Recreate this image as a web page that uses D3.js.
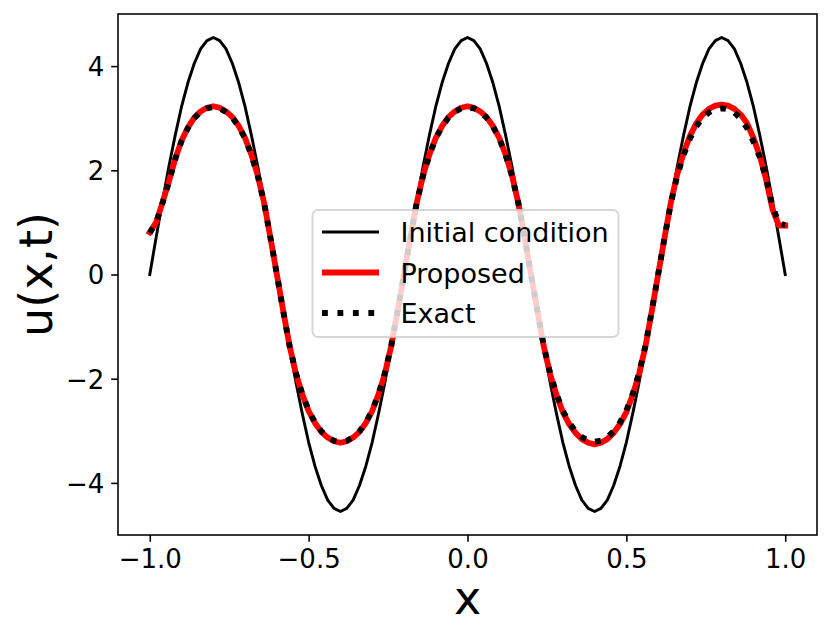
<!DOCTYPE html>
<html>
<head>
<meta charset="utf-8">
<script src="https://cdn.jsdelivr.net/npm/d3@7"></script>
<style>
  html, body { margin: 0; padding: 0; background: #fff; }
  svg { display: block; font-family: "DejaVu Sans", sans-serif; }
</style>
</head>
<body>
<div id="chart"></div>
<script>
// sample positions along x
const xValues = [
  -1.00, -0.98, -0.96, -0.94, -0.92, -0.90, -0.88, -0.86, -0.84, -0.82,
  -0.80, -0.78, -0.76, -0.74, -0.72, -0.70, -0.68, -0.66, -0.64, -0.62,
  -0.60, -0.58, -0.56, -0.54, -0.52, -0.50, -0.48, -0.46, -0.44, -0.42,
  -0.40, -0.38, -0.36, -0.34, -0.32, -0.30, -0.28, -0.26, -0.24, -0.22,
  -0.20, -0.18, -0.16, -0.14, -0.12, -0.10, -0.08, -0.06, -0.04, -0.02,
   0.00,  0.02,  0.04,  0.06,  0.08,  0.10,  0.12,  0.14,  0.16,  0.18,
   0.20,  0.22,  0.24,  0.26,  0.28,  0.30,  0.32,  0.34,  0.36,  0.38,
   0.40,  0.42,  0.44,  0.46,  0.48,  0.50,  0.52,  0.54,  0.56,  0.58,
   0.60,  0.62,  0.64,  0.66,  0.68,  0.70,  0.72,  0.74,  0.76,  0.78,
   0.80,  0.82,  0.84,  0.86,  0.88,  0.90,  0.92,  0.94,  0.96,  0.98,
   1.00
];

const initialCondition = [
   0.00,  0.71,  1.41,  2.07,  2.67,  3.22,  3.68,  4.05,  4.33,  4.49,
   4.55,  4.49,  4.33,  4.05,  3.68,  3.22,  2.67,  2.07,  1.41,  0.71,
   0.00, -0.71, -1.41, -2.07, -2.67, -3.22, -3.68, -4.05, -4.33, -4.49,
  -4.55, -4.49, -4.33, -4.05, -3.68, -3.22, -2.67, -2.07, -1.41, -0.71,
   0.00,  0.71,  1.41,  2.07,  2.67,  3.22,  3.68,  4.05,  4.33,  4.49,
   4.55,  4.49,  4.33,  4.05,  3.68,  3.22,  2.67,  2.07,  1.41,  0.71,
   0.00, -0.71, -1.41, -2.07, -2.67, -3.22, -3.68, -4.05, -4.33, -4.49,
  -4.55, -4.49, -4.33, -4.05, -3.68, -3.22, -2.67, -2.07, -1.41, -0.71,
   0.00,  0.71,  1.41,  2.07,  2.67,  3.22,  3.68,  4.05,  4.33,  4.49,
   4.55,  4.49,  4.33,  4.05,  3.68,  3.22,  2.67,  2.07,  1.41,  0.71,
   0.00
];

const proposed = [
   0.81,  1.00,  1.38,  1.78,  2.22,  2.57,  2.82,  3.01,  3.13,  3.20,
   3.23,  3.20,  3.13,  3.02,  2.85,  2.62,  2.30,  1.90,  1.37,  0.70,
   0.00, -0.70, -1.37, -1.90, -2.30, -2.62, -2.85, -3.02, -3.13, -3.20,
  -3.23, -3.20, -3.13, -3.02, -2.85, -2.62, -2.30, -1.90, -1.37, -0.70,
   0.00,  0.70,  1.37,  1.90,  2.30,  2.62,  2.85,  3.02,  3.13,  3.20,
   3.23,  3.20,  3.13,  3.02,  2.85,  2.62,  2.30,  1.90,  1.37,  0.70,
   0.00, -0.70, -1.38, -1.91, -2.31, -2.64, -2.87, -3.04, -3.16, -3.23,
  -3.26, -3.23, -3.16, -3.04, -2.87, -2.64, -2.31, -1.91, -1.38, -0.70,
   0.00,  0.70,  1.38,  1.92,  2.33,  2.66,  2.90,  3.07,  3.18,  3.24,
   3.26,  3.24,  3.18,  3.07,  2.90,  2.62,  2.28,  1.82,  1.25,  0.94,
   0.94
];

const exact = [
   0.80,  0.99,  1.37,  1.77,  2.21,  2.56,  2.81,  3.00,  3.12,  3.19,
   3.21,  3.19,  3.12,  3.01,  2.84,  2.61,  2.29,  1.89,  1.37,  0.70,
   0.00, -0.70, -1.37, -1.89, -2.29, -2.61, -2.84, -3.01, -3.12, -3.19,
  -3.21, -3.19, -3.12, -3.01, -2.84, -2.61, -2.29, -1.89, -1.37, -0.70,
   0.00,  0.70,  1.37,  1.89,  2.29,  2.61,  2.84,  3.01,  3.12,  3.19,
   3.21,  3.19,  3.12,  3.01,  2.84,  2.61,  2.29,  1.89,  1.37,  0.70,
   0.00, -0.70, -1.37, -1.89, -2.29, -2.61, -2.84, -3.01, -3.12, -3.19,
  -3.21, -3.19, -3.12, -3.01, -2.84, -2.61, -2.29, -1.89, -1.37, -0.70,
   0.00,  0.70,  1.37,  1.89,  2.29,  2.61,  2.84,  3.01,  3.11,  3.17,
   3.19,  3.17,  3.11,  2.99,  2.81,  2.55,  2.25,  1.84,  1.32,  0.98,
   0.95
];

const xTicks = [-1.0, -0.5, 0.0, 0.5, 1.0];
const yTicks = [-4, -2, 0, 2, 4];
const legendLabels = ["Initial condition", "Proposed", "Exact"];

const width = 831;
const height = 639;
const plot = { left: 118, right: 817, top: 14, bottom: 535 };

const lw = 1.944;   // px per point

const x = d3.scaleLinear().domain([-1.1, 1.1]).range([plot.left, plot.right]);
const y = d3.scaleLinear().domain([-5.0, 5.0]).range([plot.bottom, plot.top]);

const fmtMinus = s => s.replace("-", "\u2212");

const svg = d3.select("#chart")
    .append("svg")
    .attr("width", width)
    .attr("height", height)
    .attr("viewBox", `0 0 ${width} ${height}`);

const line = ys => d3.line()
    .x((d, i) => x(xValues[i]))
    .y(d => y(d))(ys);

// curves
svg.append("path")
    .attr("d", line(initialCondition))
    .attr("fill", "none")
    .attr("stroke", "#000")
    .attr("stroke-width", 1.5 * lw)
    .attr("stroke-linejoin", "round")
    .attr("stroke-linecap", "square");

svg.append("path")
    .attr("d", line(proposed))
    .attr("fill", "none")
    .attr("stroke", "#ff0000")
    .attr("stroke-width", 3 * lw)
    .attr("stroke-linejoin", "round")
    .attr("stroke-linecap", "square");

svg.append("path")
    .attr("d", line(exact))
    .attr("fill", "none")
    .attr("stroke", "#000")
    .attr("stroke-width", 3 * lw)
    .attr("stroke-dasharray", `${3 * lw} ${3 * lw * 1.65}`)
    .attr("stroke-linejoin", "round")
    .attr("stroke-linecap", "butt");

// axes
const tickLen = 3.5 * lw;
const xAxis = d3.axisBottom(x)
    .tickValues(xTicks)
    .tickSize(tickLen)
    .tickPadding(3.5 * lw)
    .tickFormat(d => fmtMinus(d3.format(".1f")(d)));

const yAxis = d3.axisLeft(y)
    .tickValues(yTicks)
    .tickSize(tickLen)
    .tickPadding(3.5 * lw)
    .tickFormat(d => fmtMinus(String(d)));

const gx = svg.append("g")
    .attr("transform", `translate(0,${plot.bottom})`)
    .call(xAxis);

const gy = svg.append("g")
    .attr("transform", `translate(${plot.left},0)`)
    .call(yAxis);

[gx, gy].forEach(g => {
    g.select(".domain").remove();
    g.selectAll(".tick line").attr("stroke", "#000").attr("stroke-width", 0.8 * lw);
    g.selectAll(".tick text")
        .attr("fill", "#000")
        .style("font-family", "DejaVu Sans")
        .style("font-size", "26px");
});
gx.selectAll(".tick text").attr("dy", "0.76em");
gy.selectAll(".tick text").attr("dy", "0.36em");

// frame
svg.append("rect")
    .attr("x", plot.left)
    .attr("y", plot.top)
    .attr("width", plot.right - plot.left)
    .attr("height", plot.bottom - plot.top)
    .attr("fill", "none")
    .attr("stroke", "#000")
    .attr("stroke-width", 0.8 * lw);

// axis labels
svg.append("text")
    .attr("x", (plot.left + plot.right) / 2)
    .attr("y", 614)
    .attr("text-anchor", "middle")
    .style("font-size", "46px")
    .text("x");

svg.append("text")
    .attr("transform", `translate(52,${(plot.top + plot.bottom) / 2}) rotate(-90)`)
    .attr("text-anchor", "middle")
    .style("font-size", "46px")
    .text("u(x,t)");

// legend
const legend = svg.append("g").attr("transform", "translate(312.5,210)");
legend.append("rect")
    .attr("width", 306)
    .attr("height", 127)
    .attr("rx", 5.5)
    .attr("fill", "#fff")
    .attr("fill-opacity", 0.8)
    .attr("stroke", "#cccccc")
    .attr("stroke-opacity", 0.8)
    .attr("stroke-width", 1.0 * lw);

const legendStyles = [
    { stroke: "#000", width: 1.5 * lw, dash: null },
    { stroke: "#ff0000", width: 3 * lw, dash: null },
    { stroke: "#000", width: 3 * lw, dash: `${3 * lw} ${3 * lw * 1.65}` }
];

const rowY = d3.scalePoint().domain(legendLabels).range([22, 103]);

legendLabels.forEach((lab, i) => {
    const st = legendStyles[i];
    const ly = rowY(lab);
    const l = legend.append("line")
        .attr("x1", 9.5)
        .attr("x2", 66.5)
        .attr("y1", ly)
        .attr("y2", ly)
        .attr("stroke", st.stroke)
        .attr("stroke-width", st.width)
        .attr("stroke-linecap", st.dash ? "butt" : "butt");
    if (st.dash) l.attr("stroke-dasharray", st.dash);
    legend.append("text")
        .attr("x", 88)
        .attr("y", ly + 10)
        .style("font-size", "27px")
        .text(lab);
});
</script>
</body>
</html>
